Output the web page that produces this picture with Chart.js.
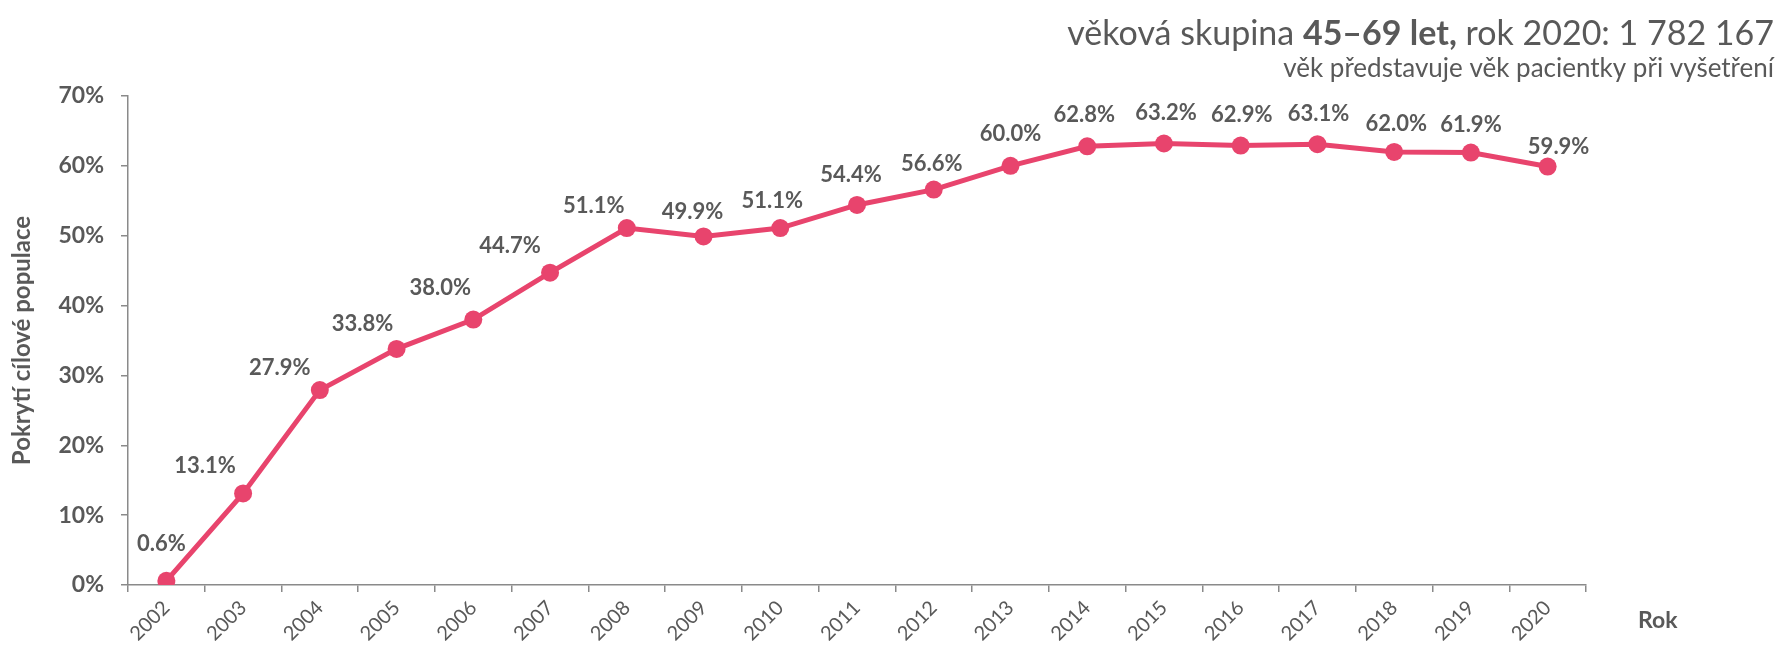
<!DOCTYPE html>
<html>
<head>
<meta charset="utf-8">
<script src="https://cdn.jsdelivr.net/npm/chart.js@4/dist/chart.umd.min.js"></script>
<style>
html,body{margin:0;padding:0;background:#fff;}
</style>
</head>
<body>
<canvas id="covChart" width="1791" height="647"></canvas>
<script>
var years = ['2002','2003','2004','2005','2006','2007','2008','2009','2010','2011','2012','2013','2014','2015','2016','2017','2018','2019','2020'];
var coverage = [0.6,13.1,27.9,33.8,38.0,44.7,51.1,49.9,51.1,54.4,56.6,60.0,62.8,63.2,62.9,63.1,62.0,61.9,59.9];
var yMin = 0, yMax = 70, yStep = 10;

// nudges for the value labels (dx, dy from the point)
var labelNudge = [[-5,-37],[-38,-28],[-40,-22],[-34,-25],[-33,-32],[-40,-27],[-33,-22],[-11,-25],[-8,-27],[-6,-30],[-2,-26],[0,-32],[-3,-31],[2,-31],[1,-31],[1,-30],[2,-28],[0,-28],[11,-20]];

var FONT = 'Lato, "Open Sans", sans-serif';
var GREY = '#595959';
var PINK = '#E8446D';

var textPlugin = {
  id: 'textPlugin',
  afterDatasetsDraw: function(chart){
    var ctx = chart.ctx;
    var meta = chart.getDatasetMeta(0);
    ctx.save();
    // value labels
    ctx.fillStyle = GREY;
    ctx.font = 'bold 22px ' + FONT;
    ctx.textAlign = 'center';
    ctx.textBaseline = 'middle';
    meta.data.forEach(function(pt, i){
      var n = labelNudge[i] || [0,-28];
      ctx.fillText(coverage[i].toFixed(1) + '%', pt.x + n[0], pt.y + n[1]);
    });
    // axis name on the right
    var area = chart.chartArea;
    ctx.font = 'bold 23px ' + FONT;
    ctx.textAlign = 'left';
    ctx.fillText('Rok', area.right + 52, area.bottom + 36);

    // subtitle lines, right aligned
    var right = 1774;
    var parts = [
      ['věková skupina ', 'normal 34px '],
      ['45–69 let,', 'bold 34px '],
      [' rok 2020: 1 782 167', 'normal 34px ']
    ];
    var x = right;
    ctx.textBaseline = 'alphabetic';
    for (var k = parts.length - 1; k >= 0; k--) {
      ctx.font = parts[k][1] + FONT;
      var w = ctx.measureText(parts[k][0]).width;
      x -= w;
      ctx.fillText(parts[k][0], x, 45);
    }
    ctx.font = 'normal 26px ' + FONT;
    ctx.textAlign = 'right';
    ctx.fillText('věk představuje věk pacientky při vyšetření', right, 77);
    ctx.restore();
  }
};

var ctx = document.getElementById('covChart').getContext('2d');
var covChart = new Chart(ctx, {
  type: 'line',
  data: {
    labels: years,
    datasets: [{
      label: 'Pokrytí',
      data: coverage,
      borderColor: PINK,
      backgroundColor: PINK,
      pointBackgroundColor: PINK,
      pointBorderColor: PINK,
      borderWidth: 5,
      pointRadius: 9,
      pointBorderWidth: 0,
      tension: 0,
      fill: false
    }]
  },
  options: {
    responsive: false,
    animation: false,
    devicePixelRatio: 1,
    layout: { padding: { top: 96, right: 205, bottom: 0, left: 0 } },
    plugins: {
      legend: { display: false },
      tooltip: { enabled: false }
    },
    scales: {
      x: {
        offset: true,
        grid: { offset: true, drawOnChartArea: false, drawTicks: true, tickLength: 7, color: '#8a8a8a', lineWidth: 1.5 },
        border: { display: true, color: '#8a8a8a', width: 1.5 },
        ticks: { color: GREY, font: { family: FONT, size: 20 }, minRotation: 45, maxRotation: 45, padding: 4 },
        afterFit: function(s){ s.height = 62; }
      },
      y: {
        min: yMin,
        max: yMax,
        grid: { drawOnChartArea: false, drawTicks: true, tickLength: 7, color: '#8a8a8a', lineWidth: 1.5 },
        border: { display: true, color: '#8a8a8a', width: 1.5 },
        ticks: {
          stepSize: yStep,
          color: GREY,
          padding: 17,
          font: { family: FONT, size: 23, weight: 'bold' },
          callback: function(v){ return v + '%'; }
        },
        title: {
          display: true,
          text: 'Pokrytí cílové populace',
          color: GREY,
          font: { family: FONT, size: 24, weight: 'bold' },
          padding: { top: 8, bottom: 0 }
        },
        afterFit: function(s){ s.width = 128; }
      }
    }
  },
  plugins: [textPlugin]
});
</script>
</body>
</html>
